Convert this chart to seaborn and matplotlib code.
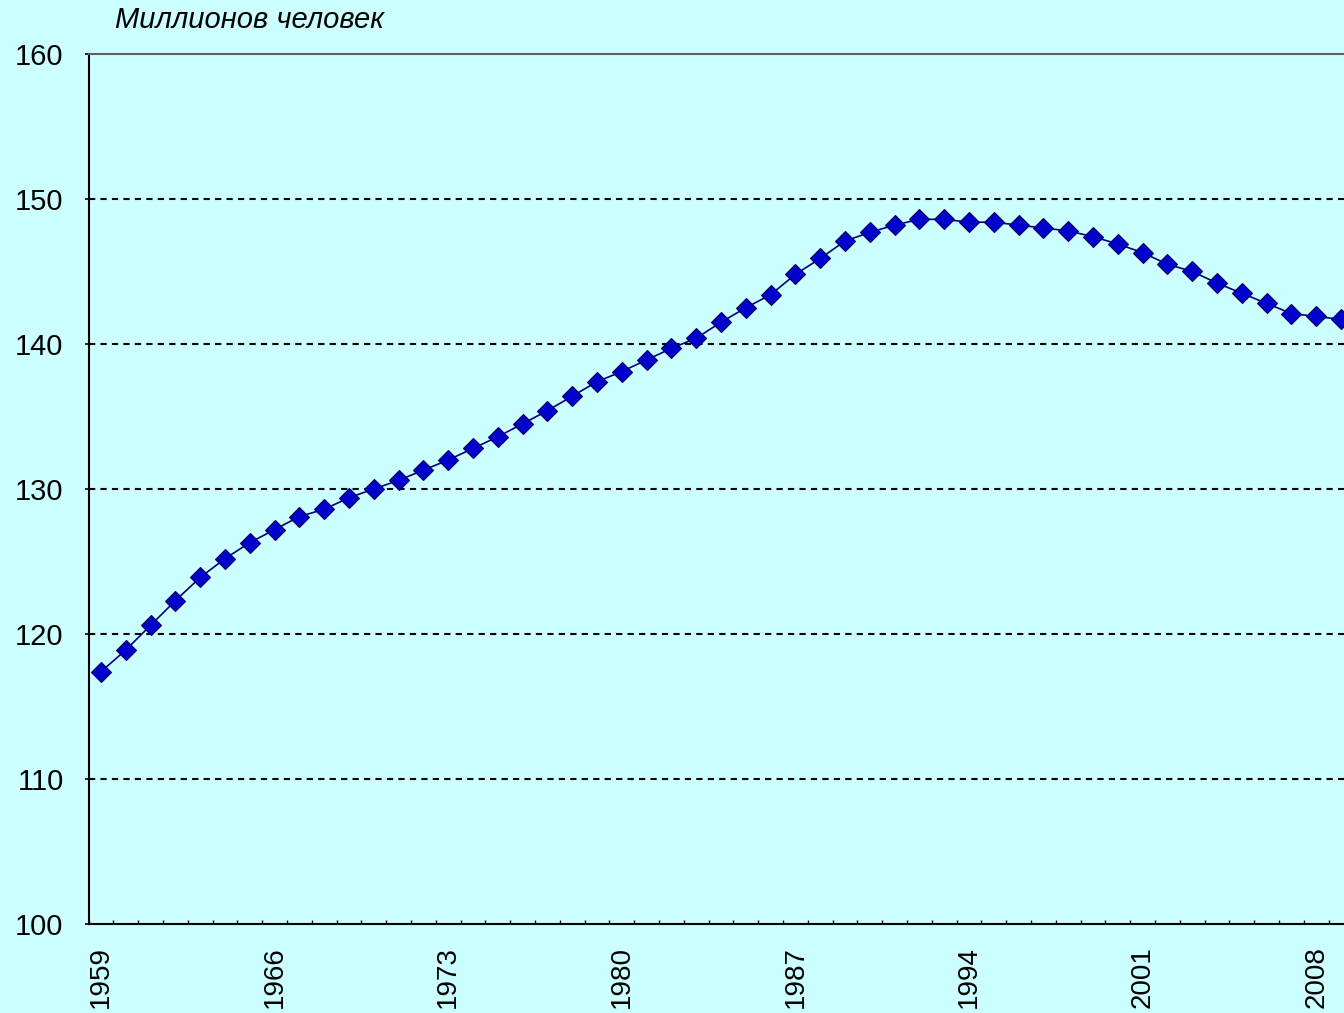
import matplotlib
matplotlib.use("Agg")
import matplotlib.pyplot as plt
import seaborn as sns
import pandas as pd
import numpy as np

years = list(range(1959, 2010))
population = [117.4, 118.9, 120.6, 122.3, 123.9, 125.2, 126.3, 127.2, 128.1, 128.6,
              129.4, 130.0, 130.6, 131.3, 132.0, 132.8, 133.6, 134.5, 135.4, 136.4,
              137.4, 138.1, 138.9, 139.7, 140.4, 141.5, 142.5, 143.4, 144.8, 145.9,
              147.1, 147.7, 148.2, 148.6, 148.6, 148.4, 148.4, 148.2, 148.0, 147.8,
              147.4, 146.9, 146.3, 145.5, 145.0, 144.2, 143.5, 142.8, 142.1, 141.9,
              141.7]
y_ticks = [100, 110, 120, 130, 140, 150, 160]
x_label_years = [1959, 1966, 1973, 1980, 1987, 1994, 2001, 2008]
unit_label = "Миллионов человек"

df = pd.DataFrame({"year": years, "pop": population})

sns.set_style("white")
plt.rcParams['font.family'] = ['Liberation Sans', 'DejaVu Sans']

W, H = 1344, 1013
fig = plt.figure(figsize=(W / 100, H / 100), dpi=100)
bg = "#CCFFFF"
fig.patch.set_facecolor(bg)

px_per_year = 24.8
left_px = 88.6
right_px = left_px + 51 * px_per_year
ax = fig.add_axes([left_px / W, (H - 924) / H, (right_px - left_px) / W, (924 - 54) / H])
ax.set_facecolor(bg)

sns.lineplot(data=df, x="year", y="pop", ax=ax, color="#000080", linewidth=1.2,
             marker="D", markersize=10, markerfacecolor="#0000CC",
             markeredgecolor="#000060", markeredgewidth=0.8, zorder=5)

ax.set_xlim(1958.5, 2009.5)
ax.set_ylim(100, 160)
ax.set_yticks(y_ticks)
ax.set_yticklabels([str(v) for v in y_ticks], fontsize=21, color="black")
ax.set_xticks(x_label_years)
ax.set_xticklabels([str(v) for v in x_label_years], rotation=90, fontsize=20,
                   va="top", color="black")
ax.set_xticks(np.arange(1958.5, 2010, 1.0), minor=True)
ax.tick_params(axis="x", which="major", bottom=True, length=0, pad=16)
ax.tick_params(axis="x", which="minor", bottom=True, length=3, width=1,
               direction="in", color="black")
ax.tick_params(axis="y", which="major", left=True, length=3, width=1.2,
               direction="out", color="black", pad=15)
ax.set_xlabel("")
ax.set_ylabel("")

for v in y_ticks[1:-1]:
    ax.axhline(v, color="black", linewidth=1.5, linestyle=(0, (3, 2.5)), zorder=1)

for s in ["left", "bottom"]:
    ax.spines[s].set_color("black")
    ax.spines[s].set_linewidth(1.5)
ax.spines["top"].set_color("#606060")
ax.spines["top"].set_linewidth(1.5)
ax.spines["right"].set_visible(False)

fig.text(115 / W, 1 - 20 / H, unit_label, fontsize=21, style="italic",
         ha="left", va="center", color="black")

fig.savefig("out.png", dpi=100, facecolor=bg)
